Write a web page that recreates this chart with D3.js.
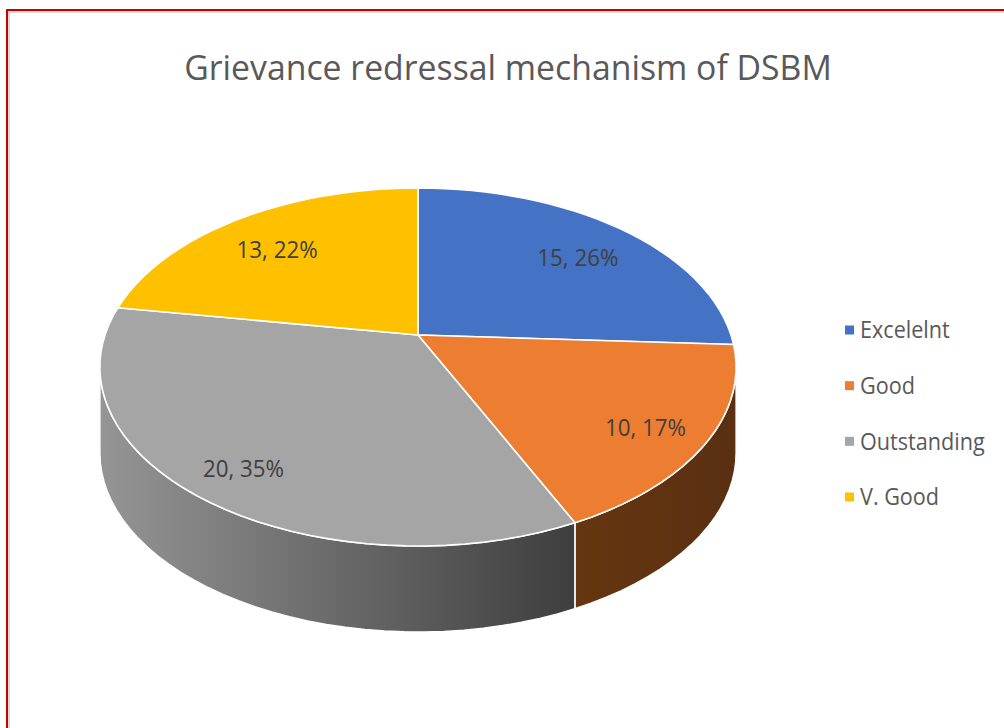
<!DOCTYPE html>
<html>
<head>
<meta charset="utf-8">
<script src="https://cdn.jsdelivr.net/npm/d3@7"></script>
<style>
  html, body { margin: 0; padding: 0; background: #fff; }
  svg { display: block; }
  text { font-family: "Open Sans", "Noto Sans", sans-serif; }
</style>
</head>
<body>
<svg id="chart" width="1004" height="728"></svg>
<script>
// Survey responses on the grievance redressal mechanism
const categories = ["Excelelnt", "Good", "Outstanding", "V. Good"];
const counts = [15, 10, 20, 13];
const topColors = ["#4472c4", "#ed7d31", "#a5a5a5", "#ffc000"];
const sideColors = ["#2c4c86", "#5e3214", "#707070", "#b08400"];
const title = "Grievance redressal mechanism of DSBM";

const W = 1004, H = 728;
const svg = d3.select("#chart");

// Chart area frame (red outline with a soft inner shadow)
svg.append("rect").attr("x", 9).attr("y", 12).attr("width", W + 20).attr("height", H + 20)
  .attr("fill", "none").attr("stroke", "#dcdcdc").attr("stroke-width", 2);
svg.append("rect").attr("x", 7).attr("y", 10).attr("width", W + 20).attr("height", H + 20)
  .attr("fill", "none").attr("stroke", "#c80000").attr("stroke-width", 2);

// Narrow a text run horizontally to a fraction of its natural width
const condense = (sel, f) => sel.each(function () {
  const len = this.getComputedTextLength();
  d3.select(this).attr("textLength", len * f).attr("lengthAdjust", "spacingAndGlyphs");
});

// Title
svg.append("text")
  .attr("x", 508).attr("y", 80)
  .attr("text-anchor", "middle")
  .attr("font-size", 35)
  .attr("fill", "#595959")
  .text(title)
  .call(condense, 0.965);

// Perspective projection of the pie disc onto the page
const pie3d = { cx: 418, cy: 335, rx: 313, ry: 173.3, k: 0.1788, depth: 86 };
function project(theta, r) {
  const u = r * Math.sin(theta), v = r * Math.cos(theta);
  const d = 1 + pie3d.k * v;
  return [pie3d.cx + pie3d.rx * u / d, pie3d.cy - pie3d.ry * v / d];
}
// centre of the projected ellipse (widest point of the disc)
const k = pie3d.k;
const ellCenter = [pie3d.cx, pie3d.cy + pie3d.ry * k / (1 - k * k)];

const arcs = d3.pie().sort(null).value(d => d)(counts);
const total = d3.sum(counts);
const line = d3.line();
const steps = 120;

// Whole-number percentages that add up to 100 (largest remainder)
const rawPct = counts.map(c => 100 * c / total);
const pct = rawPct.map(Math.floor);
let short = 100 - d3.sum(pct);
d3.range(counts.length)
  .sort((a, b) => (rawPct[b] - pct[b]) - (rawPct[a] - pct[a]))
  .forEach(i => { if (short > 0) { pct[i] += 1; short -= 1; } });

function rimPoints(a0, a1) {
  const n = Math.max(2, Math.ceil(steps * (a1 - a0) / (2 * Math.PI)));
  return d3.range(n + 1).map(i => project(a0 + (a1 - a0) * i / n, 1));
}

// Visible front wall lies between the two horizontal extremes of the rim
const frontStart = Math.acos(-k), frontEnd = 2 * Math.PI - Math.acos(-k);

const defs = svg.append("defs");
const wallShades = [
  [d3.color(sideColors[0]).brighter(0.45), d3.color(sideColors[0]).darker(0.45)],
  ["#65360f", "#5a2f12"],
  ["#959595", "#3e3e3e"],
  [d3.color(sideColors[3]).brighter(0.45), d3.color(sideColors[3]).darker(0.45)]
];
wallShades.forEach((pair, i) => {
  const g = defs.append("linearGradient").attr("id", "side" + i)
    .attr("x1", "0%").attr("x2", "100%").attr("y1", "0%").attr("y2", "0%");
  g.append("stop").attr("offset", "0%").attr("stop-color", pair[0]);
  g.append("stop").attr("offset", "100%").attr("stop-color", pair[1]);
});

// Side walls
const sides = svg.append("g");
arcs.forEach((a, i) => {
  const s = Math.max(a.startAngle, frontStart), e = Math.min(a.endAngle, frontEnd);
  if (e <= s) return;
  const upper = rimPoints(s, e);
  const lower = upper.map(p => [p[0], p[1] + pie3d.depth]).reverse();
  sides.append("path")
    .attr("d", line(upper.concat(lower)) + "Z")
    .attr("fill", `url(#side${i})`)
    .attr("stroke", "#fff").attr("stroke-width", 1.5).attr("stroke-linejoin", "round");
});

// Top surface slices
const tops = svg.append("g");
arcs.forEach((a, i) => {
  const pts = [[pie3d.cx, pie3d.cy]].concat(rimPoints(a.startAngle, a.endAngle));
  tops.append("path")
    .attr("d", line(pts) + "Z")
    .attr("fill", topColors[i])
    .attr("stroke", "#fff").attr("stroke-width", 1.6).attr("stroke-linejoin", "round");
});

// Data labels: "value, percent"
const labelR = 0.79;
arcs.forEach((a, i) => {
  const mid = (a.startAngle + a.endAngle) / 2;
  const rim = project(mid, 1);
  const x = ellCenter[0] + labelR * (rim[0] - ellCenter[0]);
  const y = ellCenter[1] + labelR * (rim[1] - ellCenter[1]);
  svg.append("text")
    .attr("x", x).attr("y", y)
    .attr("dy", "0.35em")
    .attr("text-anchor", "middle")
    .attr("font-size", 24)
    .attr("fill", "#404040")
    .text(`${counts[i]}, ${pct[i]}%`)
    .call(condense, 0.93);
});

// Legend
const ly = d3.scalePoint().domain(categories).range([330, 497]);
const legend = svg.append("g");
categories.forEach((c, i) => {
  legend.append("rect")
    .attr("x", 845).attr("y", ly(c) - 4.5)
    .attr("width", 9).attr("height", 9)
    .attr("fill", topColors[i]);
  legend.append("text")
    .attr("x", 860).attr("y", ly(c))
    .attr("dy", "0.35em")
    .attr("font-size", 24)
    .attr("fill", "#595959")
    .text(c)
    .call(condense, 0.9);
});
</script>
</body>
</html>
